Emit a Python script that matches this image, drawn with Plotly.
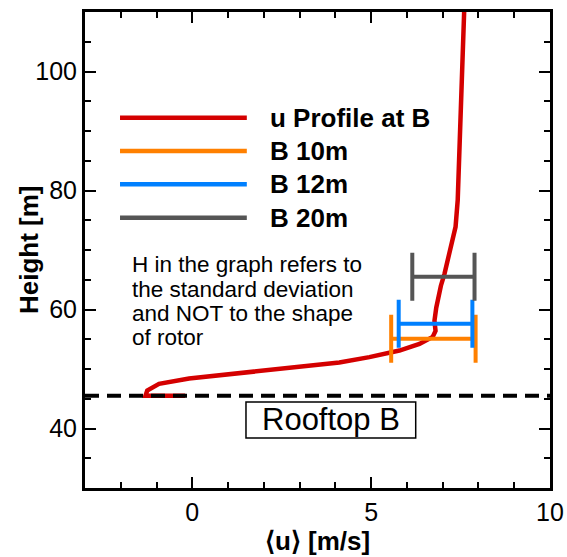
import plotly.graph_objects as go

# u profile at B (u [m/s], height [m])
profile_u = [-0.2, -1.31, -1.26, -0.93, -0.09, 0.84, 1.96, 3.18, 4.11, 4.95, 5.79,
             6.35, 6.72, 6.80, 6.77, 6.82, 6.86, 6.95, 7.05, 7.18, 7.28, 7.36, 7.42,
             7.49, 7.58, 7.60]
profile_h = [45.5, 45.5, 46.4, 47.5, 48.4, 49.0, 49.6, 50.4, 51.1, 52.0, 53.1,
             54.2, 55.4, 56.4, 58.1, 60.3, 61.5, 64.0, 66.0, 69.0, 71.7, 73.9, 78.4,
             89.6, 105.3, 110.0]

# Measurement points (mean u, height, std dev of u)
meas_names = ["B 10m", "B 12m", "B 20m"]
meas_u = [6.74, 6.80, 7.02]
meas_h = [55.1, 57.6, 65.5]
meas_std = [1.18, 1.03, 0.87]
meas_colors = ["#ff8000", "#0080ff", "#555555"]

rooftop_h = 45.5
profile_name = "u Profile at B"
profile_color = "#d40000"

FONT = "Liberation Sans, Arial, Helvetica, sans-serif"

fig = go.Figure()

fig.add_trace(go.Scatter(x=profile_u, y=profile_h, mode="lines",
                         line=dict(color=profile_color, width=4.5),
                         showlegend=False, name=profile_name))

for n, u, h, s, c in zip(meas_names, meas_u, meas_h, meas_std, meas_colors):
    fig.add_trace(go.Scatter(x=[u], y=[h], mode="lines", name=n,
                             line=dict(color=c, width=4),
                             error_x=dict(type="data", array=[s], symmetric=True,
                                          color=c, thickness=4, width=24),
                             showlegend=False))

# rooftop dashed line
fig.add_shape(type="line", xref="paper", x0=0, x1=1, yref="y",
              y0=rooftop_h, y1=rooftop_h,
              line=dict(color="black", width=4, dash="14px,8px"))

# custom legend
leg_names = [profile_name] + meas_names
leg_colors = [profile_color] + meas_colors
leg_y = [0.778, 0.708, 0.638, 0.568]
for nm, col, yy in zip(leg_names, leg_colors, leg_y):
    fig.add_shape(type="line", xref="paper", yref="paper", x0=0.0753, x1=0.348,
                  y0=yy, y1=yy, line=dict(color=col, width=4.5))
    fig.add_annotation(xref="paper", yref="paper", x=0.3935, y=yy,
                       xanchor="left", yanchor="middle", showarrow=False,
                       text="<b>%s</b>" % nm,
                       font=dict(family=FONT, size=26, color="black"))

note_lines = ["H in the graph refers to", "the standard deviation",
              "and NOT to the shape", "of rotor"]
note_y = [0.4685, 0.418, 0.3676, 0.3172]
for t, yy in zip(note_lines, note_y):
    fig.add_annotation(xref="paper", yref="paper", x=0.0968, y=yy,
                       xanchor="left", yanchor="middle", showarrow=False,
                       text=t, font=dict(family=FONT, size=22.5, color="black"))

# Rooftop B box
fig.add_shape(type="rect", xref="paper", yref="paper", x0=0.3462, x1=0.7112,
              y0=0.105, y1=0.1807, line=dict(color="black", width=1.5))
fig.add_annotation(xref="paper", yref="paper", x=0.5288, y=0.1429,
                   xanchor="center", yanchor="middle", showarrow=False,
                   text="Rooftop B", font=dict(family=FONT, size=31, color="black"))

# y-axis title
fig.add_annotation(xref="paper", yref="paper", x=-0.1204, y=0.5,
                   xanchor="center", yanchor="middle", showarrow=False,
                   textangle=-90, text="<b>Height [m]</b>",
                   font=dict(family=FONT, size=26, color="black"))

axis_common = dict(showline=True, linecolor="black", linewidth=3, mirror="allticks",
                   ticks="inside", ticklen=11, tickwidth=2, tickcolor="black",
                   showgrid=False, zeroline=False, automargin=False,
                   tickfont=dict(family=FONT, size=25, color="black"))

fig.update_xaxes(range=[-3, 10], tickvals=[0, 5, 10],
                 minor=dict(dtick=1, tick0=0, ticks="inside", ticklen=6,
                            tickwidth=1.5, tickcolor="black", showgrid=False),
                 title=dict(text="<b>\u27e8u\u27e9 [m/s]</b>", standoff=2,
                            font=dict(family=FONT, size=26, color="black")),
                 **axis_common)
fig.update_yaxes(range=[30, 110], tickvals=[40, 60, 80, 100],
                 minor=dict(dtick=5, tick0=0, ticks="inside", ticklen=6,
                            tickwidth=1.5, tickcolor="black", showgrid=False),
                 **axis_common)

fig.update_layout(width=567, height=557, plot_bgcolor="white", paper_bgcolor="white",
                  margin=dict(l=85, r=17, t=12, b=69), showlegend=False,
                  font=dict(family=FONT))

fig.write_html("out.html", config={"displayModeBar": False},
               post_script="document.body.style.margin='0';document.body.style.overflow='hidden';")
